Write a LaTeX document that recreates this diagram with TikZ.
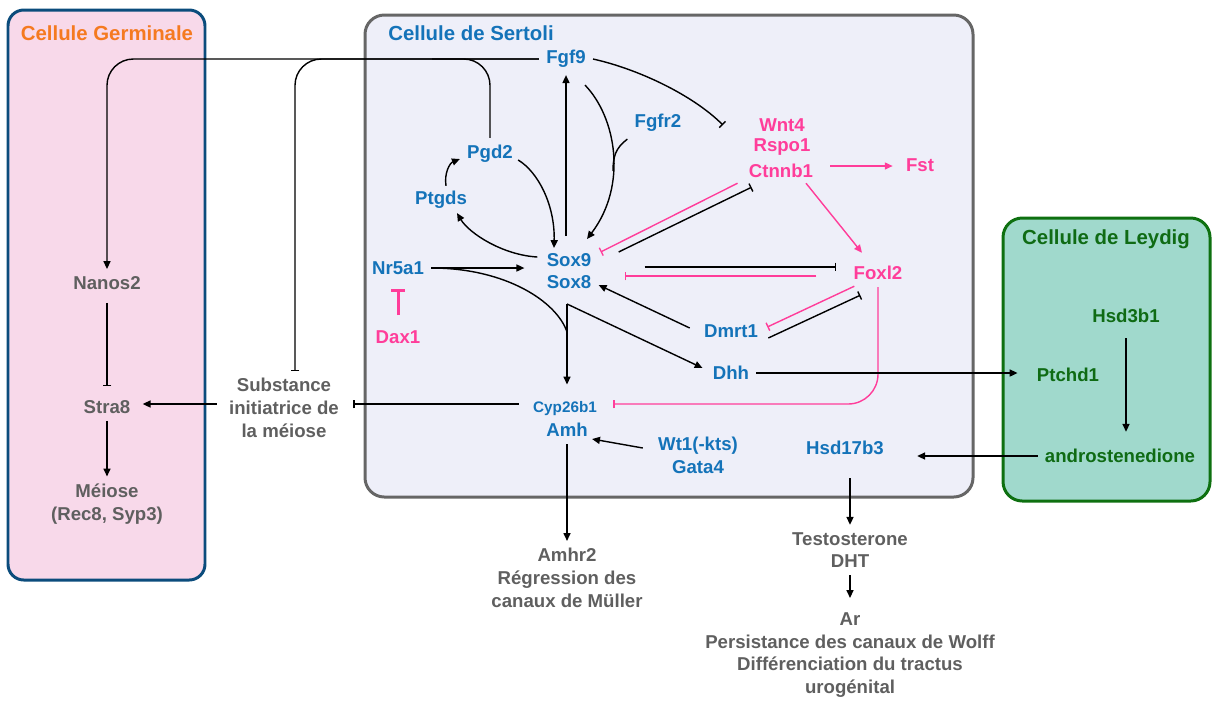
\documentclass[tikz,border=0pt]{standalone}
\usepackage{fontspec}
\setmainfont{Liberation Sans}
\usepackage{tikz}
\usetikzlibrary{arrows.meta,calc}
\definecolor{sblue}{HTML}{1473B9}
\definecolor{spink}{HTML}{FF3D9A}
\definecolor{sorange}{HTML}{F57A20}
\definecolor{sgreen}{HTML}{0F6B14}
\definecolor{sgrey}{HTML}{5F5F5F}
\definecolor{gfill}{HTML}{F8D9EA}
\definecolor{gborder}{HTML}{0B4C7C}
\definecolor{sfill}{HTML}{EEEFF9}
\definecolor{sborder}{HTML}{666666}
\definecolor{lfill}{HTML}{A0D9CC}
\definecolor{lborder}{HTML}{0E7010}

\begin{document}
\begin{tikzpicture}[x=0.02cm,y=-0.02cm,
    gene/.style={text=sblue,font=\fontsize{10.6}{13}\selectfont\bfseries,inner sep=4pt,align=center},
    fem/.style={gene,text=spink},
    phen/.style={gene,text=sgrey},
    ley/.style={gene,text=sgreen},
    celltitle/.style={font=\fontsize{11.6}{14}\selectfont\bfseries,inner sep=0pt},
    act/.style={-{Triangle[length=4.5pt,width=4pt]},line width=0.8pt},
    inh/.style={-{Bar[width=5pt]},line width=0.8pt},
    pact/.style={act,spink},
    pinh/.style={inh,spink}]
  \useasboundingbox (0,0) rectangle (1212,701);
  % les trois cellules
  \draw[line width=1.7pt,draw=gborder,fill=gfill,rounded corners=9pt] (8,10) rectangle (205,580);
  \draw[line width=1.7pt,draw=sborder,fill=sfill,rounded corners=11pt] (365,15) rectangle (973,497);
  \draw[line width=1.7pt,draw=lborder,fill=lfill,rounded corners=11pt] (1003,218) rectangle (1210,501);
  \node[celltitle,text=sorange] (germ) at (107,33) {Cellule Germinale};
  \node[celltitle,text=sblue] (sert) at (471,33) {Cellule de Sertoli};
  \node[celltitle,text=sgreen] (leyd) at (1106,239) {Cellule de Leydig};

  % Sertoli
  \node[gene] (Fgf9) at (566,59) {Fgf9};
  \node[gene] (Fgfr2) at (658,123) {Fgfr2};
  \node[gene] (Pgd2) at (490,154) {Pgd2};
  \node[gene] (Ptgds) at (441,200) {Ptgds};
  \node[gene] (Sox9) at (569,260) {Sox9};
  \node[gene] (Sox8) at (569,282) {Sox8};
  \node[gene] (Nr5a1) at (398,268) {Nr5a1};
  \node[fem] (Dax1) at (398,337) {Dax1};
  \node[gene] (Dmrt1) at (731,331) {Dmrt1};
  \node[gene] (Dhh) at (731,373) {Dhh};
  \node[gene,font=\fontsize{8.7}{10}\selectfont\bfseries] (Cyp) at (565,409) {Cyp26b1};
  \node[gene] (Amh) at (567,430) {Amh};
  \node[gene] (Wt1) at (698,455) {Wt1(-kts)\\Gata4};
  \node[gene] (Hsd17b3) at (845,448) {Hsd17b3};
  \node[fem] (Wnt4) at (782,125) {Wnt4};
  \node[fem] (Rspo1) at (782,147) {Rspo1};
  \node[fem] (Ctnnb1) at (781,171) {Ctnnb1};
  \node[fem] (Fst) at (920,165) {Fst};
  \node[fem] (Foxl2) at (878,273) {Foxl2};
  % Leydig
  \node[ley] (Hsd3b1) at (1126,316) {Hsd3b1};
  \node[ley] (Ptchd1) at (1068,375) {Ptchd1};
  \node[ley] (andro) at (1120,456) {androstenedione};
  % lignee germinale et effets
  \node[phen] (Nanos2) at (107,283) {Nanos2};
  \node[phen] (Stra8) at (107,407) {Stra8};
  \node[phen] (Meiose) at (107,504) {Méiose\\(Rec8, Syp3)};
  \node[phen] (Subst) at (284,408) {Substance\\initiatrice de\\la méiose};
  \node[phen] (Amhr2) at (567,578) {Amhr2\\Régression des\\canaux de Müller};
  \node[phen] (Testo) at (850,550) {Testosterone\\DHT};
  \node[phen] (Ar) at (850,655) {Ar\\Persistance des canaux de Wolff\\Différenciation du tractus\\urogénital};

  % Fgf9 / Pgd2 vers la lignee germinale
  \coordinate (pjoin) at (432,59);
  \draw[act,rounded corners=15pt] (Fgf9.west) -| (Nanos2.north);
  \draw[inh,rounded corners=15pt] (Fgf9.west) -| ([shift={(11,0)}]Subst.north);
  \draw[line width=0.8pt,rounded corners=15pt] (Pgd2.north) |- (pjoin);

  % boucle Sox9
  \draw[act] ($(Sox9.north -| Fgf9.south)+(0,-10)$) -- (Fgf9.south);
  \draw[act] ([shift={(19,10)}]Fgf9.south) .. controls +(31,32) and +(41,-54) .. ([shift={(18,-7)}]Sox9.north);
  \coordinate (fjoin) at (613,171);
  \draw[line width=0.8pt] (Fgfr2.south west) .. controls +(-12,9) and +(0,-14) .. (fjoin);
  \draw[act] ([shift={(-2,6)}]Pgd2.east) .. controls +(20,12) and +(1,-43) .. ([shift={(-15,2)}]Sox9.north);
  \draw[act] ([shift={(5,2)}]Ptgds.north) .. controls +(-2,-13) and +(-10,4) .. ([shift={(0,5)}]Pgd2.west);
  \draw[act] ([shift={(-2,-3)}]Sox9.west) .. controls +(-35,-2) and +(12,20) .. ([shift={(16,-3)}]Ptgds.south);
  \draw[act] (Nr5a1.east) -- ($(Nr5a1.east -| Sox9.west)+(-15,0)$);
  \draw[-{Bar[width=7.5pt]},spink,line width=1.7pt,shorten <=4.5pt,shorten >=4pt] (Dax1) -- (Nr5a1);

  % sorties de Sox8
  \coordinate (fork) at ($(Sox8.south)+(-2,8)$);
  \draw[line width=0.8pt] (Nr5a1.east) .. controls +(75,0) and +(-10,-30) .. ($(fork)+(0,28)$);
  \draw[act] (fork) -- ($(fork |- Cyp.north)+(0,-10)$);
  \draw[act] (fork) -- ([shift={(-3,-5)}]Dhh.west);
  \draw[act] ([shift={(-7,-3)}]Dmrt1.west) -- ([shift={(0,3)}]Sox8.east);

  % antagonismes male / femelle
  \draw[inh] (Fgf9.east) .. controls +(45,10) and +(-30,-30) .. ([shift={(-29,0)}]Wnt4.west);
  \draw[inh] ([shift={(20,-8)}]Sox9.east) -- ([shift={(10,2)}]Ctnnb1.south west);
  \draw[pinh] ([shift={(-4,-2)}]Ctnnb1.south west) -- ([shift={(2,-8)}]Sox9.east);
  \draw[inh] ([shift={(46,7)}]Sox9.east) -- ([shift={(-10,-6)}]Foxl2.west);
  \draw[pinh] ([shift={(-30,3)}]Foxl2.west) -- ([shift={(26,-6)}]Sox8.east);
  \draw[pinh] ([shift={(8,-1)}]Foxl2.south west) -- ([shift={(2,-4)}]Dmrt1.east);
  \draw[inh] ([shift={(3,7)}]Dmrt1.east) -- ([shift={(14,8)}]Foxl2.south west);
  \draw[pact] ([shift={(10,-5)}]Ctnnb1.east) -- ([shift={(-6,1)}]Fst.west);
  \draw[pact] ([shift={(25,-2)}]Ctnnb1.south) -- ([shift={(-16,-6)}]Foxl2.north);
  \draw[pinh,rounded corners=17pt] (Foxl2.south) |- ([shift={(9,-5)}]Cyp.east);

  % Leydig et hormones
  \draw[act] (Dhh.east) -- ($(Dhh.east -| Ptchd1.west)+(-12,0)$);
  \draw[act,shorten <=4.5pt,shorten >=5.7pt] (Hsd3b1.south) -- (Hsd3b1.south |- andro.north);
  \draw[act] (andro.west) -- ($(andro.west -| Hsd17b3.east)+(26,0)$);
  \draw[act] ($(Testo.north |- Hsd17b3.south)+(0,16)$) -- (Testo.north);
  \draw[act] (Testo.south) -- ($(Ar.north)+(0,-7)$);
  \draw[act] (Amh.south) -- (Amhr2.north);
  \draw[act] ([shift={(-8,-7)}]Wt1.west) -- ([shift={(-3,9)}]Amh.east);

  % meiose
  \draw[inh] ([shift={(-7,-5)}]Cyp.west) -- ([shift={(7,-4)}]Subst.east);
  \draw[act] ([shift={(-5,-4)}]Subst.west) -- ([shift={(5,-3)}]Stra8.east);
  \draw[inh,shorten <=3.4pt,shorten >=4pt] (Nanos2) -- (Stra8);
  \draw[act] (Stra8) -- (Meiose);
\end{tikzpicture}
\end{document}
